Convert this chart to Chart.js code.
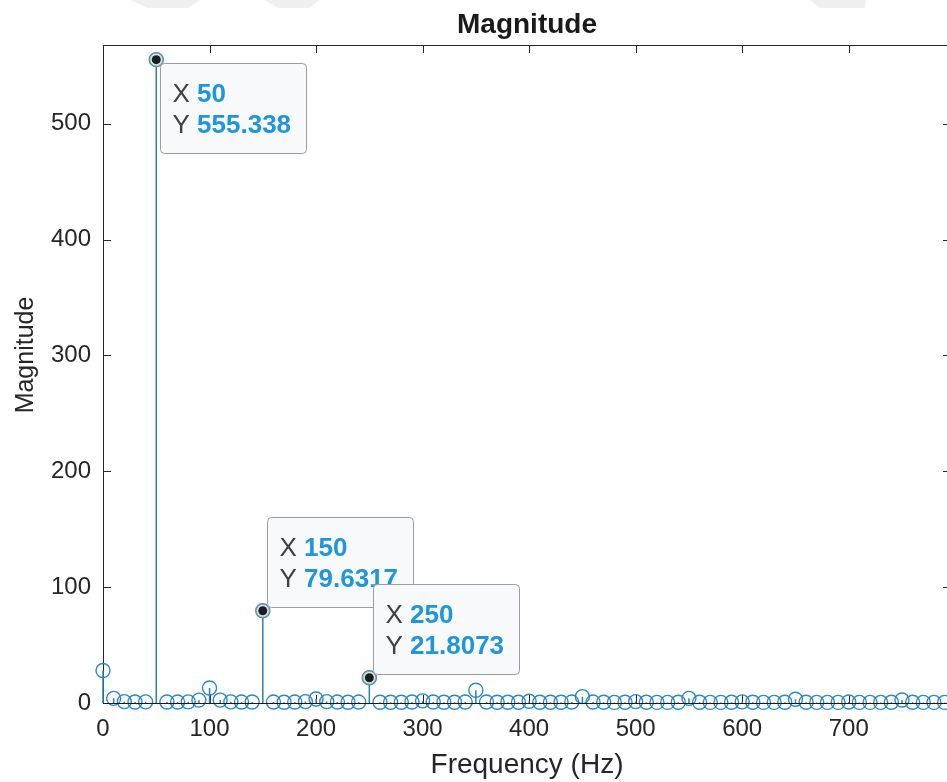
<!DOCTYPE html>
<html>
<head>
<meta charset="utf-8">
<script src="https://cdn.jsdelivr.net/npm/chart.js@4/dist/chart.umd.min.js"></script>
<style>
  html, body { margin: 0; padding: 0; overflow: hidden; background: #ffffff; }
  #wrap { position: relative; width: 960px; height: 782px; }
  #spectrum { display: block; width: 960px; height: 782px; }
</style>
</head>
<body>
<div id="wrap"><canvas id="spectrum" width="960" height="782"></canvas></div>
<script>
// Single-sided magnitude spectrum, 10 Hz bins
const frequencies = [
  0, 10, 20, 30, 40, 50, 60, 70, 80, 90,
  100, 110, 120, 130, 140, 150, 160, 170, 180, 190,
  200, 210, 220, 230, 240, 250, 260, 270, 280, 290,
  300, 310, 320, 330, 340, 350, 360, 370, 380, 390,
  400, 410, 420, 430, 440, 450, 460, 470, 480, 490,
  500, 510, 520, 530, 540, 550, 560, 570, 580, 590,
  600, 610, 620, 630, 640, 650, 660, 670, 680, 690,
  700, 710, 720, 730, 740, 750, 760, 770, 780, 790
];
const magnitudes = [
  28, 4, 1.2, 0.9, 1.0, 555.338, 0.9, 0.8, 1.0, 2.5,
  13, 2.5, 1.0, 0.8, 0.9, 79.6317, 0.8, 0.7, 0.8, 1.2,
  3.5, 1.2, 0.8, 0.7, 0.8, 21.8073, 0.7, 0.6, 0.7, 0.9,
  1.8, 0.9, 0.7, 0.6, 0.8, 11, 0.8, 0.6, 0.6, 0.7,
  1.5, 0.7, 0.6, 0.6, 0.8, 5.5, 0.8, 0.6, 0.5, 0.6,
  1.2, 0.6, 0.5, 0.5, 0.7, 4.0, 0.7, 0.5, 0.5, 0.6,
  1.0, 0.6, 0.5, 0.5, 0.6, 3.2, 0.6, 0.5, 0.5, 0.5,
  0.9, 0.5, 0.5, 0.5, 0.6, 2.6, 0.6, 0.5, 0.5, 0.5
];
const xTickValues = [0, 100, 200, 300, 400, 500, 600, 700];
const yTickValues = [0, 100, 200, 300, 400, 500];
const tipFrequencies = [50, 150, 250];
const yAxisLabel = 'Magnitude';

const FONT = '"Liberation Sans", Arial, Helvetica, sans-serif';
const AXIS_COLOR = '#262626';
const STEM_COLOR = '#2a84a8';
const MARKER_COLOR = '#2d87c0';

// Faint header decoration across the top of the figure
const headerDecor = {
  id: 'headerDecor',
  beforeDraw(chart) {
    const ctx = chart.ctx;
    ctx.save();
    ctx.fillStyle = '#f0f0f0';
    const shapes = [
      [[130, 0], [200, 0], [188, 8], [148, 8]],
      [[264, 0], [320, 0], [310, 8], [278, 8]],
      [[810, 0], [866, 0], [865, 8], [820, 8]]
    ];
    shapes.forEach(s => {
      ctx.beginPath();
      ctx.moveTo(s[0][0], s[0][1]);
      for (let i = 1; i < s.length; i++) ctx.lineTo(s[i][0], s[i][1]);
      ctx.closePath();
      ctx.fill();
    });
    ctx.restore();
  }
};

// Axes box with inward-pointing ticks on all four sides, plus the y-axis label
const axesBox = {
  id: 'axesBox',
  beforeDatasetsDraw(chart) {
    const {ctx, chartArea: a, scales: {x, y}} = chart;
    const len = 8;
    ctx.save();
    ctx.strokeStyle = AXIS_COLOR;
    ctx.lineWidth = 1;
    ctx.strokeRect(a.left + 0.5, a.top + 0.5, a.right - a.left, a.bottom - a.top);
    ctx.beginPath();
    xTickValues.forEach(v => {
      const px = Math.round(x.getPixelForValue(v)) + 0.5;
      ctx.moveTo(px, a.bottom); ctx.lineTo(px, a.bottom - len);
      ctx.moveTo(px, a.top); ctx.lineTo(px, a.top + len);
    });
    yTickValues.forEach(v => {
      const py = Math.round(y.getPixelForValue(v)) + 0.5;
      ctx.moveTo(a.left, py); ctx.lineTo(a.left + len, py);
      ctx.moveTo(a.right, py); ctx.lineTo(a.right - len, py);
    });
    ctx.stroke();

    // rotated y-axis label, sitting a little above the axis midpoint
    ctx.translate(26, (a.top + a.bottom) / 2 - 19);
    ctx.rotate(-Math.PI / 2);
    ctx.font = '25px ' + FONT;
    ctx.fillStyle = AXIS_COLOR;
    ctx.textAlign = 'center';
    ctx.textBaseline = 'middle';
    ctx.fillText(yAxisLabel, 0, 0);
    ctx.restore();
  }
};

// Vertical stems from the zero baseline up to each sample
const stems = {
  id: 'stems',
  beforeDatasetsDraw(chart) {
    const {ctx, scales: {x, y}} = chart;
    const y0 = y.getPixelForValue(0);
    ctx.save();
    ctx.strokeStyle = STEM_COLOR;
    ctx.lineWidth = 1.5;
    ctx.beginPath();
    frequencies.forEach((f, i) => {
      const px = x.getPixelForValue(f);
      ctx.moveTo(px, y0);
      ctx.lineTo(px, y.getPixelForValue(magnitudes[i]));
    });
    ctx.stroke();
    ctx.restore();
  },
  afterDatasetsDraw(chart) {
    const {ctx, chartArea: a, scales: {y}} = chart;
    const y0 = Math.round(y.getPixelForValue(0)) + 0.5;
    ctx.save();
    ctx.strokeStyle = '#1a1a1a';
    ctx.lineWidth = 1.2;
    ctx.beginPath();
    ctx.moveTo(a.left, y0);
    ctx.lineTo(a.right, y0);
    ctx.stroke();
    ctx.restore();
  }
};

// Data tips: marker plus a box with the X / Y readout
const dataTips = {
  id: 'dataTips',
  afterDraw(chart, args, opts) {
    const {ctx, scales: {x, y}} = chart;
    const size = 26;
    const regular = size + 'px ' + FONT;
    const bold = 'bold ' + size + 'px ' + FONT;
    tipFrequencies.forEach((f, k) => {
      const idx = frequencies.indexOf(f);
      const v = magnitudes[idx];
      const px = x.getPixelForValue(f);
      const py = y.getPixelForValue(v);

      // marker
      ctx.save();
      ctx.beginPath();
      ctx.arc(px, py, 6.5, 0, Math.PI * 2);
      ctx.fillStyle = '#dfe5e6';
      ctx.fill();
      ctx.strokeStyle = '#8c9a9c';
      ctx.lineWidth = 1;
      ctx.stroke();
      ctx.beginPath();
      ctx.arc(px, py, 4.5, 0, Math.PI * 2);
      ctx.fillStyle = '#17201f';
      ctx.fill();
      ctx.restore();

      const rows = [['X ', String(f)], ['Y ', String(v)]];
      ctx.save();
      let maxW = 0;
      rows.forEach(r => {
        ctx.font = regular;
        const w1 = ctx.measureText(r[0]).width;
        ctx.font = bold;
        const w2 = ctx.measureText(r[1]).width;
        maxW = Math.max(maxW, w1 + w2);
      });
      const w = Math.round(maxW + 27);
      const h = 90;
      const below = opts.placement[k] === 'below';
      const left = Math.round(px + 4) + 0.5;
      const top = Math.round(below ? py + 3 : py - 4 - h) + 0.5;

      ctx.beginPath();
      ctx.roundRect(left, top, w, h, 4);
      ctx.fillStyle = '#f8f9fb';
      ctx.fill();
      ctx.strokeStyle = '#9c9c9c';
      ctx.lineWidth = 1;
      ctx.stroke();

      ctx.textBaseline = 'middle';
      ctx.textAlign = 'left';
      rows.forEach((r, j) => {
        const ty = top + 31 * (j + 1);
        let tx = left + 12;
        ctx.font = regular;
        ctx.fillStyle = '#404040';
        ctx.fillText(r[0], tx, ty);
        tx += ctx.measureText(r[0]).width;
        ctx.font = bold;
        ctx.fillStyle = '#1f96dc';
        ctx.fillText(r[1], tx, ty);
      });
      ctx.restore();
    });
  }
};

new Chart(document.getElementById('spectrum'), {
  type: 'scatter',
  data: {
    datasets: [{
      data: frequencies.map((f, i) => ({x: f, y: magnitudes[i]})),
      pointStyle: 'circle',
      pointRadius: 7,
      pointHoverRadius: 7,
      pointBorderWidth: 1.4,
      pointBorderColor: MARKER_COLOR,
      pointBackgroundColor: 'rgba(0,0,0,0)',
      showLine: false,
      clip: false
    }]
  },
  options: {
    responsive: false,
    maintainAspectRatio: false,
    devicePixelRatio: 1,
    animation: false,
    events: [],
    layout: { padding: { left: 0, right: 9, top: 0, bottom: 0 } },
    plugins: {
      legend: { display: false },
      tooltip: { enabled: false },
      title: {
        display: true,
        text: 'Magnitude',
        fullSize: false,
        color: '#1a1a1a',
        font: { family: FONT, size: 28, weight: 'bold' },
        padding: { top: 8, bottom: 3.4 }
      },
      dataTips: { placement: ['below', 'above', 'above'] }
    },
    scales: {
      x: {
        type: 'linear',
        position: 'bottom',
        min: 0,
        max: 796,
        grid: { display: false, drawTicks: false },
        border: { display: false },
        afterBuildTicks: s => { s.ticks = xTickValues.map(v => ({value: v})); },
        afterFit: s => { s.height = 79; },
        ticks: {
          color: AXIS_COLOR,
          font: { family: FONT, size: 24 },
          padding: 12,
          maxRotation: 0,
          autoSkip: false
        },
        title: {
          display: true,
          text: 'Frequency (Hz)',
          color: AXIS_COLOR,
          font: { family: FONT, size: 28 },
          padding: { top: 0, bottom: 0 }
        }
      },
      y: {
        type: 'linear',
        position: 'left',
        min: 0,
        max: 568,
        grid: { display: false, drawTicks: false },
        border: { display: false },
        afterBuildTicks: s => { s.ticks = yTickValues.map(v => ({value: v})); },
        afterFit: s => { s.width = 103; },
        ticks: {
          color: AXIS_COLOR,
          font: { family: FONT, size: 24 },
          padding: 12,
          autoSkip: false
        }
      }
    }
  },
  plugins: [headerDecor, axesBox, stems, dataTips]
});
</script>
</body>
</html>
